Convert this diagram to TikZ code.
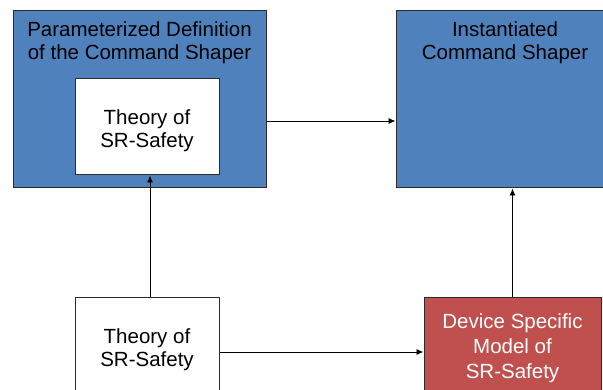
\documentclass[tikz,border=0pt]{standalone}
\usepackage{fontspec}
\setmainfont{Liberation Sans}
\usetikzlibrary{arrows.meta}
\definecolor{boxblue}{HTML}{4F81BD}
\definecolor{boxred}{HTML}{C0504D}
\definecolor{edge}{HTML}{2B2B2B}
\tikzset{
  bluebox/.style={draw=edge, line width=1pt, fill=boxblue, inner sep=0pt},
  whitebox/.style={draw=edge, line width=1pt, fill=white, inner sep=0pt},
  redbox/.style={draw=edge, line width=1pt, fill=boxred, inner sep=0pt},
  boxtext/.style={align=center, inner sep=0pt, font=\fontsize{20.5}{23.5}\selectfont},
  redtext/.style={align=center, inner sep=0pt, text=white, font=\fontsize{20.5}{25}\selectfont},
  titletext/.style={align=center, inner sep=0pt, font=\fontsize{20.5}{23.5}\selectfont, anchor=north},
  arr/.style={line width=0.9pt, -{Latex[length=7pt,width=6pt]}}
}
\begin{document}
\begin{tikzpicture}[x=1pt,y=-1pt]
\useasboundingbox (0,0) rectangle (603,390);
\clip (0,0) rectangle (603,390);
\fill[white] (0,0) rectangle (603,390);
\node[bluebox, minimum width=253pt, minimum height=177pt] (tl) at (139.5,99.5) {};
\node[titletext] (tltext) at (139.5,21) {Parameterized Definition\\of the Command Shaper};
\node[whitebox, minimum width=144pt, minimum height=96pt] (inner) at (147,127) {};
\node[boxtext] (innertext) at (147,130.5) {Theory of\\SR-Safety};
\node[bluebox, minimum width=218pt, minimum height=177pt] (tr) at (505,99.5) {};
\node[titletext] (trtext) at (505,21) {Instantiated\\Command Shaper};
\node[whitebox, minimum width=144pt, minimum height=98pt] (bot) at (147,347) {};
\node[boxtext] (bottext) at (147,349.5) {Theory of\\SR-Safety};
\node[redbox, minimum width=177pt, minimum height=98pt] (red) at (512.5,347) {};
\node[redtext] (redtext) at (512.5,348.5) {Device Specific\\Model of\\SR-Safety};
\draw[arr] ([xshift=3pt]bot.north) -- ([xshift=3pt]inner.south);
\draw[arr] ([yshift=-21.5pt]tl.east) -- ([yshift=-21.5pt]tr.west);
\draw[arr] ([yshift=-5pt]bot.east) -- ([yshift=-5pt]red.west);
\draw[arr] (red.north) -- (red.north |- tr.south);
\end{tikzpicture}
\end{document}
